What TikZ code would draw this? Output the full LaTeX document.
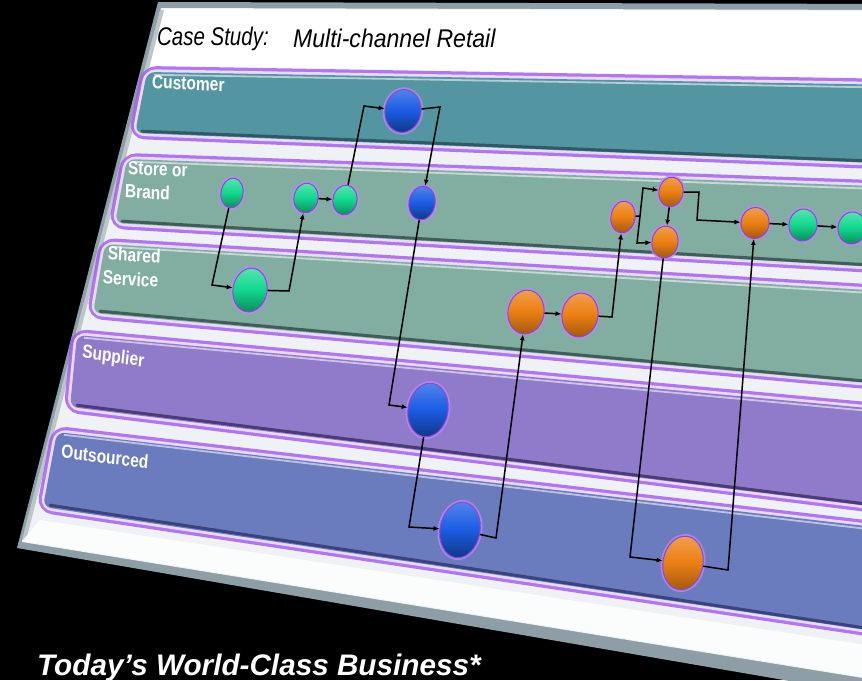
\documentclass[tikz,border=0pt]{standalone}
\usepackage{fontspec}
\setmainfont{Liberation Sans}
\usetikzlibrary{shapes.geometric,arrows.meta}

\definecolor{custC}{HTML}{5495A2}
\definecolor{custS}{HTML}{2E5A63}
\definecolor{storeC}{HTML}{82ADA1}
\definecolor{storeS}{HTML}{3F5E57}
\definecolor{suppC}{HTML}{907BCB}
\definecolor{suppS}{HTML}{4A3C74}
\definecolor{outC}{HTML}{6A7BBE}
\definecolor{outS}{HTML}{3A447C}
\definecolor{glowC}{HTML}{A256F2}
\definecolor{rimC}{HTML}{EAD9FF}
\definecolor{gBall}{HTML}{12D98F}
\definecolor{bBall}{HTML}{1C5DE4}
\definecolor{oBall}{HTML}{EC8014}
\definecolor{boardC}{HTML}{EEF2F4}
\definecolor{edgeC}{HTML}{8E9EA6}

% one swimlane: #1,#2 top-left; #3 top edge at x=900; #4,#5 bottom-left;
% #6 bottom edge at x=900; #7 fill; #8 shadow
\newcommand\swimlane[8]{%
  \draw[laneglow] (#1,#2) -- (900,#3) -- (900,#6) -- (#4,#5) -- cycle;
  \draw[lanerim] (#1,#2) -- (900,#3) -- (900,#6) -- (#4,#5) -- cycle;
  \fill[#7, rounded corners=8pt] (#1,#2) -- (900,#3) -- (900,#6) -- (#4,#5) -- cycle;
  \draw[#8, line width=3pt, line cap=round] (#4+7,#5-1.8) -- (900,#6-1.8);
  \draw[white, opacity=.55, line width=1.8pt] (#1+7,#2+2.8) -- (900,#3+2.8);
}

\begin{document}
\begin{tikzpicture}[x=1pt,y=-1pt,
  laneglow/.style={draw=glowC, line width=12pt, rounded corners=10pt, opacity=.8},
  lanerim/.style={draw=rimC, line width=5.5pt, rounded corners=9pt},
  lanelabel/.style={anchor=north west, inner sep=0pt, text=white, xscale=.82,
    font=\fontsize{19}{21}\selectfont\bfseries},
  titletext/.style={anchor=base west, inner sep=0pt, text=black,
    font=\fontsize{25.6}{26}\selectfont\itshape},
  proc/.style={ellipse, inner sep=0pt, rotate=-10, draw=glowC!85!black, line width=1pt,
    preaction={draw=glowC!70!white, line width=4.5pt, opacity=.75}},
  gproc/.style={proc, top color=gBall!70!white, bottom color=gBall!65!black, middle color=gBall},
  bproc/.style={proc, top color=bBall!75!white, bottom color=bBall!60!black, middle color=bBall},
  oproc/.style={proc, top color=oBall!75!white, bottom color=oBall!70!black, middle color=oBall},
  conn/.style={draw=black, line width=1.5pt, -{Latex[length=6pt,width=5pt]}},
  connline/.style={draw=black, line width=1.5pt}]

\useasboundingbox (0,0) rectangle (862,680);
\fill[black] (0,0) rectangle (862,680);
\clip (0,0) rectangle (862,680);

% the board
\fill[edgeC] (158,2) -- (900,4) -- (900,700) -- (17,548) -- cycle;
\fill[boardC] (161,8) -- (900,10) -- (900,684) -- (22,542) -- cycle;
\fill[white] (162,9) -- (900,11) -- (900,80) -- (150,68) -- cycle;
\draw[edgeC!60!white, line width=4pt] (162,10) -- (24,540);
\fill[white, opacity=.8] (22,541) -- (900,683) -- (900,650) -- (40,520) -- cycle;

% title
\node[titletext, xscale=.8] (titleA) at (157,45) {Case Study:};
\node[titletext, xscale=.9] (titleB) at (293,47) {Multi-channel Retail};

% swimlanes
\swimlane{147}{72}{85}{135}{133}{164}{custC}{custS}
\swimlane{127}{159}{187}{115}{223}{268.5}{storeC}{storeS}
\swimlane{105}{244}{292}{93}{313}{386}{storeC}{storeS}
\swimlane{77}{335}{411}{70}{407}{510}{suppC}{suppS}
\swimlane{57}{432}{530}{43}{507}{635}{outC}{outS}

% lane labels
\node[lanelabel, rotate=-2] (lc) at (152,75) {Customer};
\node[lanelabel, rotate=-2] (ls1) at (128,161) {Store or};
\node[lanelabel, rotate=-2] (ls2) at (125,184) {Brand};
\node[lanelabel, rotate=-3] (lh1) at (108,246) {Shared};
\node[lanelabel, rotate=-3] (lh2) at (103,270) {Service};
\node[lanelabel, rotate=-7] (lp) at (83,344) {Supplier};
\node[lanelabel, rotate=-6] (lo) at (62,444) {Outsourced};

% process steps
\node[gproc, minimum width=22pt, minimum height=30pt] (g1) at (232,193) {};
\node[gproc, minimum width=24pt, minimum height=30pt] (g2) at (306,198) {};
\node[gproc, minimum width=24pt, minimum height=30pt] (g3) at (345,200) {};
\node[gproc, minimum width=34pt, minimum height=44pt] (g4) at (250,290) {};
\node[bproc, minimum width=36pt, minimum height=43pt] (b1) at (403,111) {};
\node[bproc, minimum width=26pt, minimum height=34pt] (b2) at (422,203) {};
\node[bproc, minimum width=40pt, minimum height=54pt] (b3) at (428,410) {};
\node[bproc, minimum width=40pt, minimum height=56pt] (b4) at (460,530) {};
\node[oproc, minimum width=36pt, minimum height=44pt] (o1) at (526,312) {};
\node[oproc, minimum width=36pt, minimum height=44pt] (o2) at (580,315) {};
\node[oproc, minimum width=24pt, minimum height=32pt] (o3) at (623,217) {};
\node[oproc, minimum width=24pt, minimum height=30pt] (o4) at (671,192) {};
\node[oproc, minimum width=26pt, minimum height=32pt] (o5) at (665,242) {};
\node[oproc, minimum width=28pt, minimum height=31pt] (o6) at (755,223) {};
\node[gproc, minimum width=28pt, minimum height=32pt] (g5) at (803,225) {};
\node[gproc, minimum width=28pt, minimum height=32pt] (g6) at (852,228) {};
\node[oproc, minimum width=40pt, minimum height=54pt] (o7) at (683,563) {};

% flow
\draw[conn] (g1) -- (212,285) -- (g4);
\draw[conn] (g4) -- (289,291) -- (g2);
\draw[conn] (g2) -- (g3);
\draw[conn] (g3) -- (364,106) -- (b1);
\draw[conn] (b1) -- (440,107) -- (b2);
\draw[conn] (b2) -- (389,405) -- (b3);
\draw[conn] (b3) -- (409,527) -- (b4);
\draw[conn] (b4) -- (496,538) -- (o1);
\draw[conn] (o1) -- (o2);
\draw[conn] (o2) -- (612,317) -- (o3);
\coordinate (split) at (640,216);
\draw[connline] (o3) -- (split);
\draw[conn] (split) -- (643,188) -- (o4);
\draw[conn] (split) -- (637,243) -- (o5);
\draw[conn] (o4) -- (o5);
\draw[conn] (o4) -- (699,192) -- (697,220) -- (o6);
\draw[conn] (o5) -- (630,557) -- (o7);
\draw[conn] (o7) -- (728,570) -- (o6);
\draw[conn] (o6) -- (g5);
\draw[conn] (g5) -- (g6);

% caption
\node[anchor=base west, inner sep=0pt, text=white,
  font=\fontsize{29.7}{30}\selectfont\bfseries\itshape] (tagline) at (37,675)
  {Today’s World-Class Business*};
\end{tikzpicture}
\end{document}
